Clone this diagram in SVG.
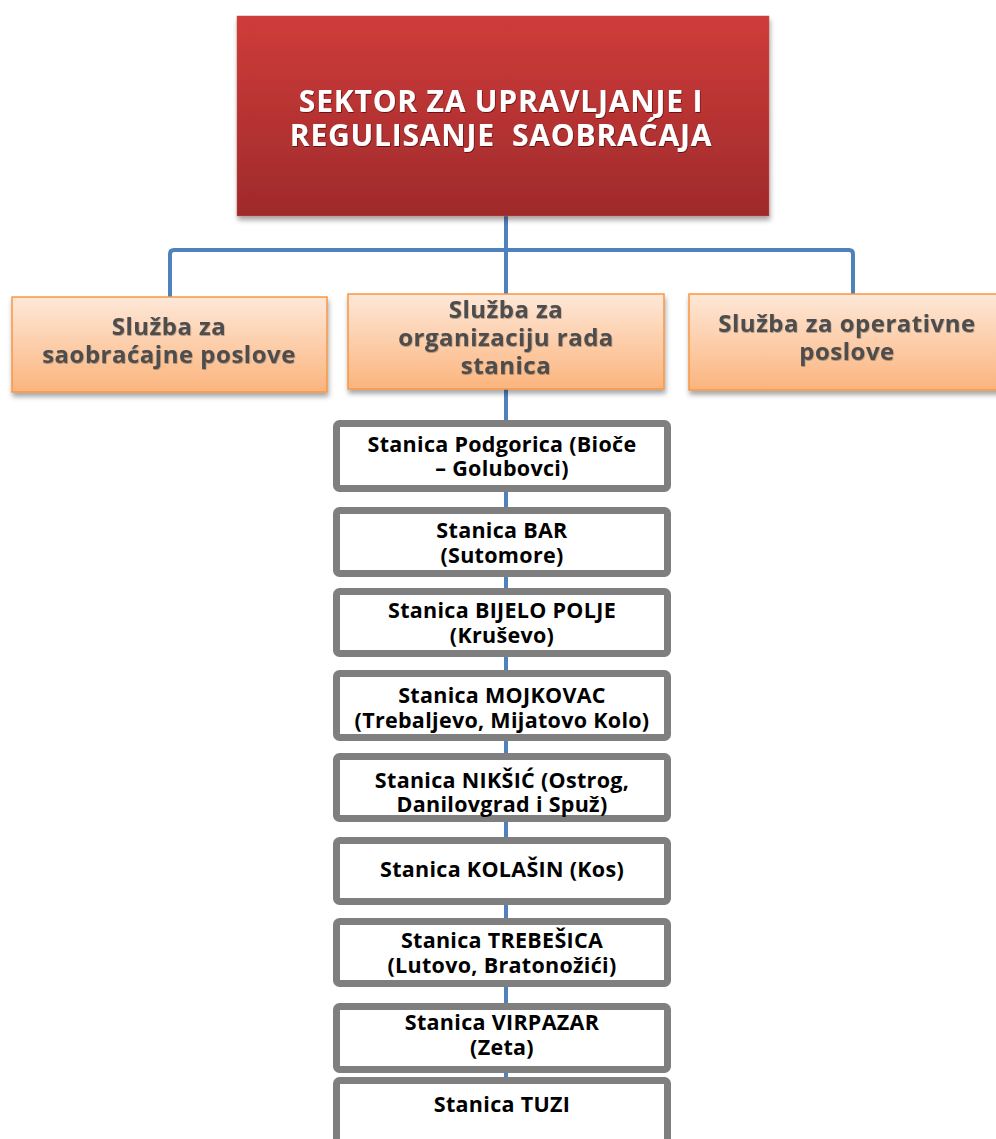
<svg xmlns="http://www.w3.org/2000/svg" width="996" height="1139" viewBox="0 0 996 1139">
<defs>
<linearGradient id="gRed" x1="0" y1="0" x2="0" y2="1">
<stop offset="0" stop-color="#cf3c3a"/>
<stop offset="1" stop-color="#9f2a2b"/>
</linearGradient>
<linearGradient id="gOr" x1="0" y1="0" x2="0" y2="1">
<stop offset="0" stop-color="#fee8d8"/>
<stop offset="1" stop-color="#fbb47d"/>
</linearGradient>
<filter id="sh" x="-10%" y="-10%" width="130%" height="140%">
<feDropShadow dx="1" dy="4" stdDeviation="2.5" flood-color="#000" flood-opacity="0.35"/>
</filter>
<filter id="tsh" x="-5%" y="-20%" width="110%" height="140%">
<feDropShadow dx="0.6" dy="0.8" stdDeviation="0.6" flood-color="#3a0000" flood-opacity="0.8"/>
</filter>
<filter id="osh" x="-5%" y="-20%" width="110%" height="140%">
<feDropShadow dx="0.5" dy="0.8" stdDeviation="0.6" flood-color="#000" flood-opacity="0.35"/>
</filter>
</defs>
<style>
.title{font-family:"Open Sans","Liberation Sans",sans-serif;font-weight:bold;font-size:30px;letter-spacing:0.8px;fill:#ffffff;text-anchor:middle;white-space:pre}
.org{fill:url(#gOr);stroke:#f79646;stroke-width:1.5}
.ot{font-family:"Open Sans","Liberation Sans",sans-serif;font-weight:bold;font-size:24px;letter-spacing:0.5px;fill:#4d4d4d;text-anchor:middle}
.st{fill:#ffffff;stroke:#7f7f7f;stroke-width:7}
.stt{font-family:"Open Sans","Liberation Sans",sans-serif;font-weight:bold;font-size:21.5px;letter-spacing:0.3px;fill:#000000;text-anchor:middle}
.con{fill:none;stroke:#4f81bd;stroke-width:4}
</style>
<rect width="996" height="1139" fill="#ffffff"/>
<g id="connectors">
<path class="con" d="M506,216 V250"/>
<path class="con" d="M170,297 V254 Q170,250 174,250 H849 Q853,250 853,254 V294"/>
<path class="con" d="M506,250 V294"/>
<path class="con" d="M506,389 V1139" stroke="#5b8ccb"/>
</g>
<g id="sektor">
<rect x="237" y="16" width="532" height="200" fill="url(#gRed)" stroke="#c0504d" stroke-width="0.5" filter="url(#sh)"/>
<g filter="url(#tsh)">
<text class="title" x="501" y="112">SEKTOR ZA UPRAVLJANJE I</text>
<text class="title" x="501" y="146" xml:space="preserve">REGULISANJE  SAOBRAĆAJA</text>
</g>
</g>
<g id="sluzba-saobracajne">
<rect class="org" x="12" y="297" width="315" height="95" filter="url(#sh)"/>
<g filter="url(#osh)">
<text class="ot" x="169" y="335">Služba za</text>
<text class="ot" x="169" y="363">saobraćajne poslove</text>
</g>
</g>
<g id="sluzba-organizacija">
<rect class="org" x="348" y="294" width="316" height="95" filter="url(#sh)"/>
<g filter="url(#osh)">
<text class="ot" x="506" y="318">Služba za</text>
<text class="ot" x="506" y="346">organizaciju rada</text>
<text class="ot" x="506" y="374">stanica</text>
</g>
</g>
<g id="sluzba-operativne">
<rect class="org" x="689" y="294" width="320" height="96" filter="url(#sh)"/>
<g filter="url(#osh)">
<text class="ot" x="847" y="332">Služba za operativne</text>
<text class="ot" x="847" y="360">poslove</text>
</g>
</g>
<g id="st-podgorica">
<rect class="st" x="336.5" y="423.5" width="331" height="65" rx="3"/>
<text class="stt" x="502" y="452">Stanica Podgorica (Bioče</text>
<text class="stt" x="502" y="476">– Golubovci)</text>
</g>
<g id="st-bar">
<rect class="st" x="336.5" y="510.5" width="331" height="63" rx="3"/>
<text class="stt" x="502" y="538">Stanica BAR</text>
<text class="stt" x="502" y="563">(Sutomore)</text>
</g>
<g id="st-bijelo-polje">
<rect class="st" x="336.5" y="591.5" width="331" height="62" rx="3"/>
<text class="stt" x="502" y="618">Stanica BIJELO POLJE</text>
<text class="stt" x="502" y="643">(Kruševo)</text>
</g>
<g id="st-mojkovac">
<rect class="st" x="336.5" y="673.5" width="331" height="64" rx="3"/>
<text class="stt" x="502" y="703">Stanica MOJKOVAC</text>
<text class="stt" x="502" y="728">(Trebaljevo, Mijatovo Kolo)</text>
</g>
<g id="st-niksic">
<rect class="st" x="336.5" y="756.5" width="331" height="62" rx="3"/>
<text class="stt" x="502" y="788">Stanica NIKŠIĆ (Ostrog,</text>
<text class="stt" x="502" y="812">Danilovgrad i Spuž)</text>
</g>
<g id="st-kolasin">
<rect class="st" x="336.5" y="840.5" width="331" height="61" rx="3"/>
<text class="stt" x="502" y="877">Stanica KOLAŠIN (Kos)</text>
</g>
<g id="st-trebesica">
<rect class="st" x="336.5" y="921.5" width="331" height="62" rx="3"/>
<text class="stt" x="502" y="948">Stanica TREBEŠICA</text>
<text class="stt" x="502" y="973">(Lutovo, Bratonožići)</text>
</g>
<g id="st-virpazar">
<rect class="st" x="336.5" y="1006.5" width="331" height="63" rx="3"/>
<text class="stt" x="502" y="1030">Stanica VIRPAZAR</text>
<text class="stt" x="502" y="1055">(Zeta)</text>
</g>
<g id="st-tuzi">
<rect class="st" x="336.5" y="1080.5" width="331" height="80" rx="3"/>
<text class="stt" x="502" y="1112">Stanica TUZI</text>
</g>
</svg>
